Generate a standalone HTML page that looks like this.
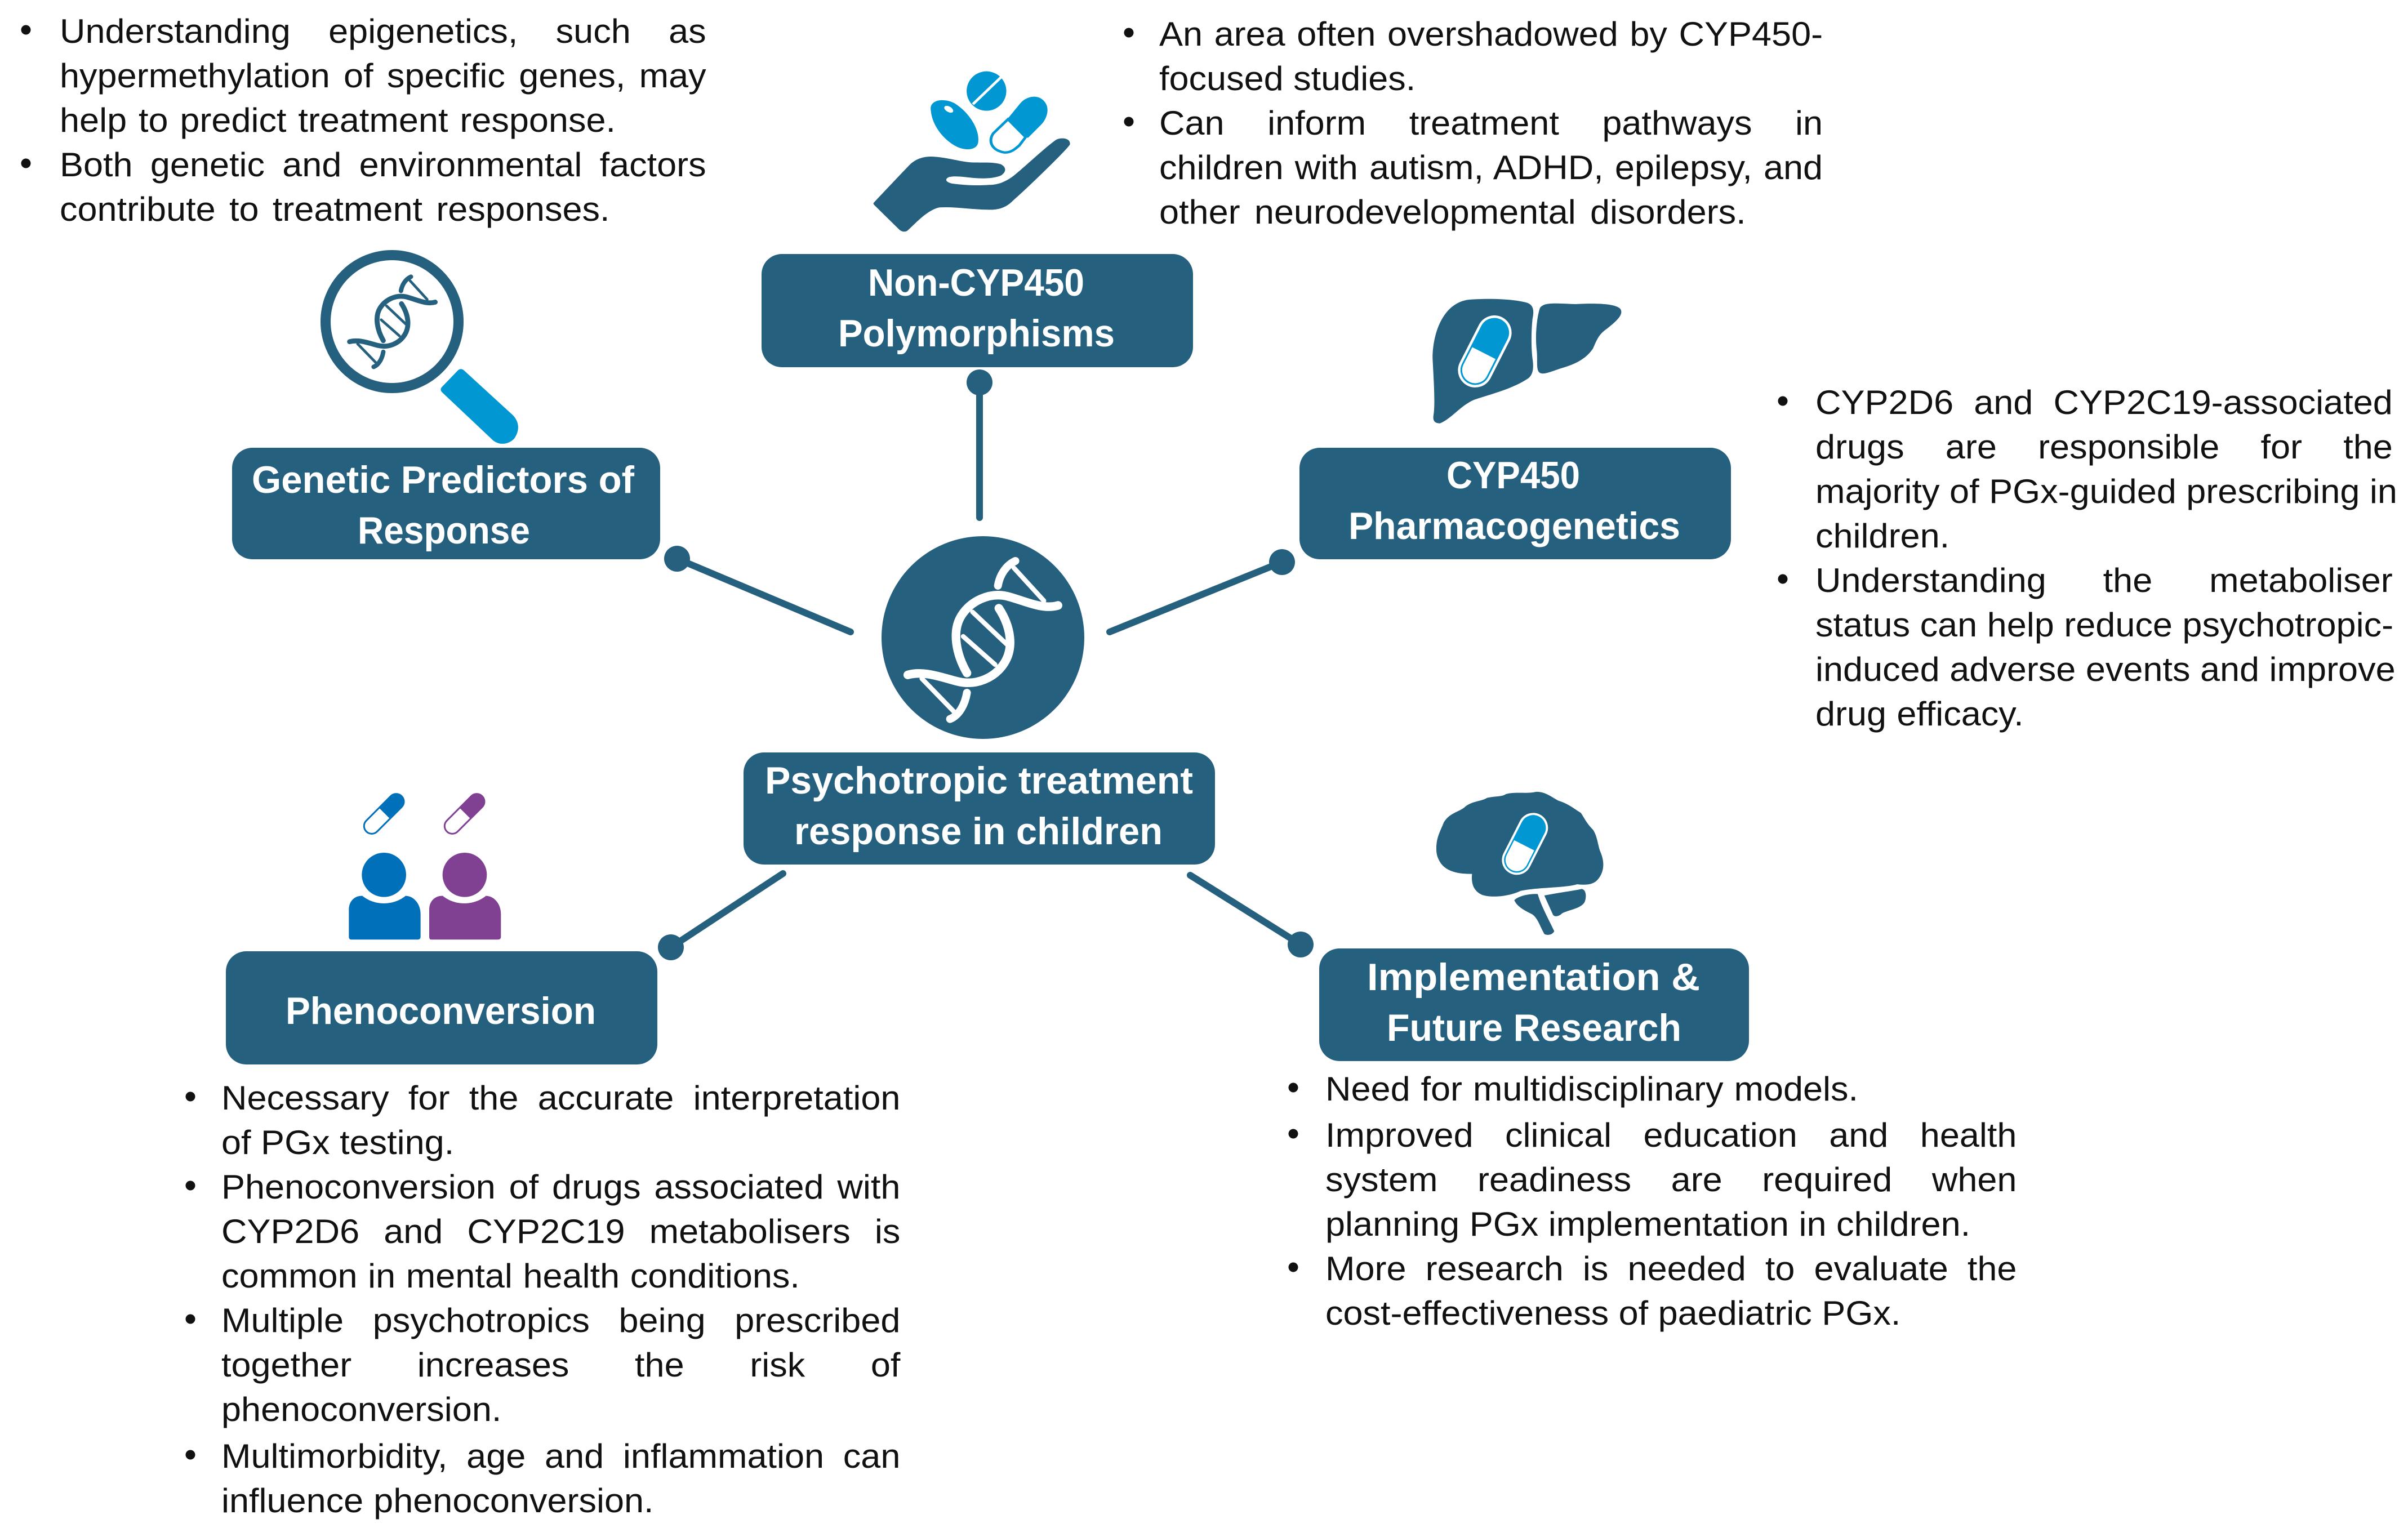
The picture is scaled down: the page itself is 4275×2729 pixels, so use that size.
<!DOCTYPE html>
<html><head><meta charset="utf-8"><style>
html,body{margin:0;padding:0;background:#fff}
#p{position:relative;width:4275px;height:2729px;overflow:hidden;background:#fff;font-family:"Liberation Sans",sans-serif}
svg{position:absolute;left:0;top:0}
.l{position:absolute;font-size:60px;line-height:60px;color:#111;white-space:nowrap;text-align:justify;text-align-last:justify;transform:scaleX(1.05);transform-origin:0 0}
.n{text-align:left;text-align-last:left}
.b1{left:106px;width:1093px}.b2{left:2058px;width:1122px}.b3{left:3223px;width:976px}.b4{left:393px;width:1148px}.b5{left:2353px;width:1169px}
.t{font-family:"Liberation Sans",sans-serif;font-weight:bold;font-size:68px;fill:#fff}
</style></head><body><div id="p">
<svg width="4275" height="2729" viewBox="0 0 4275 2729" xmlns="http://www.w3.org/2000/svg">
<defs>
<g id="dna" fill="none" stroke-linecap="round">
<path stroke-width="46" d="M335,835C420,810 520,850 600,870C700,895 800,850 850,770C900,690 885,580 820,480"/>
<path stroke-width="46" d="M1135,465C1050,490 960,440 860,415C770,395 670,440 620,520C570,600 590,720 650,825"/>
<path stroke-width="42" d="M908,228C860,250 825,300 815,360"/>
<path stroke-width="42" d="M650,930C640,990 610,1050 560,1070"/>
<path stroke-width="25" d="M900,265L1060,440M680,500L860,670M630,630L800,780M410,855L580,1030"/>
</g>
<g id="cap">
<rect x="-92" y="-204" width="184" height="408" rx="92" fill="#fff"/>
<rect x="-74" y="-186" width="148" height="372" rx="74" fill="#fff" stroke="#0097d3" stroke-width="9"/>
<path d="M-74,10V-112A74,74 0 0 1 74,-112V10Z" fill="#0097d3"/>
</g>
<g id="pill">
<rect x="-41" y="-133" width="82" height="266" rx="41" fill="#fff" stroke="currentColor" stroke-width="9"/>
<path d="M-45,-4V-92A45,45 0 0 1 45,-92V-4Z" fill="currentColor"/>
</g>
<path id="body" d="M118,705C118,660 150,630 190,632C225,660 265,672 305,672C345,672 385,660 420,632C460,632 500,670 500,730L500,850Q500,865 485,865L130,865Q118,865 118,850Z"/>
</defs>

<!-- connectors -->
<g stroke="#26607f" stroke-width="12" stroke-linecap="round" fill="#26607f">
<line x1="1739" y1="679" x2="1739" y2="919"/><circle cx="1739" cy="679" r="23" stroke="none"/>
<line x1="1202" y1="992" x2="1510" y2="1122"/><circle cx="1202" cy="992" r="23" stroke="none"/>
<line x1="2276" y1="998" x2="1970" y2="1122"/><circle cx="2276" cy="998" r="23" stroke="none"/>
<line x1="1191" y1="1682" x2="1390" y2="1551"/><circle cx="1191" cy="1682" r="23" stroke="none"/>
<line x1="2309" y1="1677" x2="2113" y2="1554"/><circle cx="2309" cy="1677" r="23" stroke="none"/>
</g>

<!-- boxes -->
<g fill="#26607f">
<rect x="1352" y="451" width="766" height="201" rx="36"/>
<rect x="412" y="795" width="760" height="198" rx="36"/>
<rect x="2307" y="795" width="766" height="198" rx="36"/>
<rect x="1320" y="1336" width="837" height="199" rx="36"/>
<rect x="401" y="1689" width="766" height="201" rx="36"/>
<rect x="2342" y="1684" width="763" height="200" rx="36"/>
</g>

<!-- box labels -->
<text class="t" x="1541" y="525" textLength="384" lengthAdjust="spacingAndGlyphs">Non-CYP450</text>
<text class="t" x="1488" y="615" textLength="491" lengthAdjust="spacingAndGlyphs">Polymorphisms</text>
<text class="t" x="447" y="875" textLength="679" lengthAdjust="spacingAndGlyphs">Genetic Predictors of</text>
<text class="t" x="635" y="965" textLength="306" lengthAdjust="spacingAndGlyphs">Response</text>
<text class="t" x="2568" y="867" textLength="237" lengthAdjust="spacingAndGlyphs">CYP450</text>
<text class="t" x="2394" y="957" textLength="589" lengthAdjust="spacingAndGlyphs">Pharmacogenetics</text>
<text class="t" x="1358" y="1409" textLength="760" lengthAdjust="spacingAndGlyphs">Psychotropic treatment</text>
<text class="t" x="1410" y="1499" textLength="654" lengthAdjust="spacingAndGlyphs">response in children</text>
<text class="t" x="507" y="1818" textLength="551" lengthAdjust="spacingAndGlyphs">Phenoconversion</text>
<text class="t" x="2427" y="1758" textLength="591" lengthAdjust="spacingAndGlyphs">Implementation &amp;</text>
<text class="t" x="2462" y="1848" textLength="523" lengthAdjust="spacingAndGlyphs">Future Research</text>

<!-- centre DNA -->
<circle cx="1745" cy="1132" r="180" fill="#26607f"/>
<use href="#dna" stroke="#fff" transform="translate(1500,920) scale(.3333)"/>

<!-- magnifier -->
<circle cx="696" cy="571" r="118" fill="#fff" stroke="#26607f" stroke-width="18"/>
<use href="#dna" stroke="#26607f" transform="translate(697,571) scale(.19) translate(-737,-647)"/>
<path transform="translate(520,420) scale(.3333)" fill="#0097d3" d="M795,800L880,712Q895,700 910,712L1170,950C1205,985 1210,1030 1180,1075C1150,1110 1095,1115 1060,1080L795,830Q780,815 795,800Z"/>

<!-- hand and pills -->
<g transform="translate(1400,80) scale(.3827,.3333)">
<path fill="#26607f" d="M395,840C440,785 510,700 560,640C590,605 630,590 680,595C740,600 800,622 850,625C900,627 950,622 985,635C1010,650 1012,675 985,695C950,712 900,712 860,708C820,704 775,695 745,703C725,712 725,730 760,738C810,746 880,750 930,745C975,745 1010,725 1040,700C1100,645 1180,555 1240,505C1265,490 1310,495 1305,530C1290,560 1100,770 1040,830C1010,865 975,880 920,877C840,875 770,860 700,865C640,880 590,950 550,990Q532,1000 515,985L400,855Q390,845 395,840Z"/>
<ellipse cx="918" cy="245" rx="92" ry="105" fill="#0097d3"/>
<line x1="855" y1="315" x2="985" y2="172" stroke="#fff" stroke-width="13"/>
<path fill="#0097d3" d="M660,350C650,290 720,280 770,310C840,360 885,450 880,510C880,565 815,565 770,535C710,495 665,420 660,350Z"/>
<ellipse cx="743" cy="342" rx="24" ry="14" fill="#fff" transform="rotate(38 743 342)"/>
<path fill="#0097d3" d="M1018,390L1075,310C1110,265 1170,260 1195,315C1210,350 1195,395 1175,420L1110,495L1092,470Z"/>
<path fill="#fff" stroke="#0097d3" stroke-width="13" d="M1018,395L950,470C925,510 940,560 1000,572C1030,575 1050,555 1070,535L1100,490Z"/>
<path fill="none" stroke="#0097d3" stroke-width="4" d="M1018,390L1092,470"/>
</g>

<!-- liver -->
<g transform="translate(2480,490) scale(.3333)">
<path fill="#26607f" d="M190,440C190,300 250,130 400,125C520,118 640,125 700,145C730,160 730,190 722,230C715,300 715,380 722,440C730,490 725,525 700,545C620,600 500,630 410,660C340,690 290,760 230,785C200,785 190,770 195,740C205,680 195,540 190,440Z"/>
<path fill="#26607f" d="M745,400C735,320 745,220 762,170C785,140 830,145 950,150C1050,145 1160,145 1190,175C1210,205 1170,240 1120,280C1075,310 1065,340 1045,385C1010,440 950,470 880,490C830,505 780,530 760,515C740,500 750,450 745,400Z"/>
<use href="#cap" transform="translate(468,402) rotate(27)"/>
</g>

<!-- brain -->
<g transform="translate(2500,1380) scale(.3333)" fill="#26607f">
<path d="M150,380C150,320 170,290 190,240C220,190 270,185 300,160C340,125 390,130 420,110C460,100 500,105 520,90C570,75 630,90 680,78C730,75 770,110 800,125C850,140 880,165 920,190C940,220 950,245 985,280C1010,320 1010,365 1025,400C1050,460 1040,510 1010,545C985,575 940,575 900,570C840,590 700,585 600,605C540,635 440,645 390,625C350,605 335,570 340,515C270,515 210,505 175,460C155,430 150,410 150,380Z"/>
<path d="M725,630C800,615 880,605 925,595C950,600 950,640 940,665C920,700 860,705 820,725C800,745 775,745 770,730Z"/>
<path d="M565,655C590,630 650,620 690,622C710,690 750,760 778,820C770,840 740,845 725,835C700,790 690,750 660,730C620,710 580,690 565,655Z"/>
<use href="#cap" transform="translate(622,355) rotate(27) scale(.86)"/>
</g>

<!-- people -->
<g transform="translate(580,1380) scale(.3333)">
<g color="#0070bb" fill="#0070bb">
<use href="#pill" transform="translate(305,195) rotate(45)"/>
<circle cx="305" cy="520" r="118"/>
<use href="#body"/>
</g>
<g color="#814193" fill="#814193">
<use href="#pill" transform="translate(734,195) rotate(45)"/>
<circle cx="735" cy="520" r="118"/>
<use href="#body" transform="translate(428,0)"/>
</g>
</g>

<!-- bullets -->
<g fill="#111">
<circle cx="46" cy="53" r="8.5"/><circle cx="46" cy="290" r="8.5"/>
<circle cx="2004" cy="58" r="8.5"/><circle cx="2004" cy="216" r="8.5"/>
<circle cx="3165" cy="712" r="8.5"/><circle cx="3165" cy="1028" r="8.5"/>
<circle cx="338" cy="1947" r="8.5"/><circle cx="338" cy="2105" r="8.5"/><circle cx="338" cy="2342" r="8.5"/><circle cx="338" cy="2583" r="8.5"/>
<circle cx="2296" cy="1931" r="8.5"/><circle cx="2296" cy="2013" r="8.5"/><circle cx="2296" cy="2250" r="8.5"/>
</g>
</svg>

<div class="l b1" style="top:26px">Understanding epigenetics, such as</div>
<div class="l b1" style="top:105px">hypermethylation of specific genes, may</div>
<div class="l b1" style="top:184px;width:940px">help to predict treatment response.</div>
<div class="l b1" style="top:263px">Both genetic and environmental factors</div>
<div class="l b1" style="top:342px;width:930px">contribute to treatment responses.</div>

<div class="l b2" style="top:31px">An area often overshadowed by CYP450-</div>
<div class="l b2" style="top:110px;width:424px">focused studies.</div>
<div class="l b2" style="top:189px">Can inform treatment pathways in</div>
<div class="l b2" style="top:268px">children with autism, ADHD, epilepsy, and</div>
<div class="l b2" style="top:347px;width:992px">other neurodevelopmental disorders.</div>

<div class="l b3" style="top:685px">CYP2D6 and CYP2C19-associated</div>
<div class="l b3" style="top:764px">drugs are responsible for the</div>
<div class="l b3" style="top:843px">majority of PGx-guided prescribing in</div>
<div class="l b3 n" style="top:922px">children.</div>
<div class="l b3" style="top:1001px">Understanding the metaboliser</div>
<div class="l b3" style="top:1080px">status can help reduce psychotropic-</div>
<div class="l b3" style="top:1159px">induced adverse events and improve</div>
<div class="l b3" style="top:1238px;width:352px">drug efficacy.</div>

<div class="l b4" style="top:1920px">Necessary for the accurate interpretation</div>
<div class="l b4" style="top:1999px;width:384px">of PGx testing.</div>
<div class="l b4" style="top:2078px">Phenoconversion of drugs associated with</div>
<div class="l b4" style="top:2157px">CYP2D6 and CYP2C19 metabolisers is</div>
<div class="l b4" style="top:2236px;width:978px">common in mental health conditions.</div>
<div class="l b4" style="top:2315px">Multiple psychotropics being prescribed</div>
<div class="l b4" style="top:2394px">together increases the risk of</div>
<div class="l b4 n" style="top:2473px">phenoconversion.</div>
<div class="l b4" style="top:2556px">Multimorbidity, age and inflammation can</div>
<div class="l b4" style="top:2635px;width:731px">influence phenoconversion.</div>

<div class="l b5" style="top:1904px;width:901px">Need for multidisciplinary models.</div>
<div class="l b5" style="top:1986px">Improved clinical education and health</div>
<div class="l b5" style="top:2065px">system readiness are required when</div>
<div class="l b5" style="top:2144px;width:1088px">planning PGx implementation in children.</div>
<div class="l b5" style="top:2223px">More research is needed to evaluate the</div>
<div class="l b5" style="top:2302px;width:963px">cost-effectiveness of paediatric PGx.</div>
</div></body></html>
